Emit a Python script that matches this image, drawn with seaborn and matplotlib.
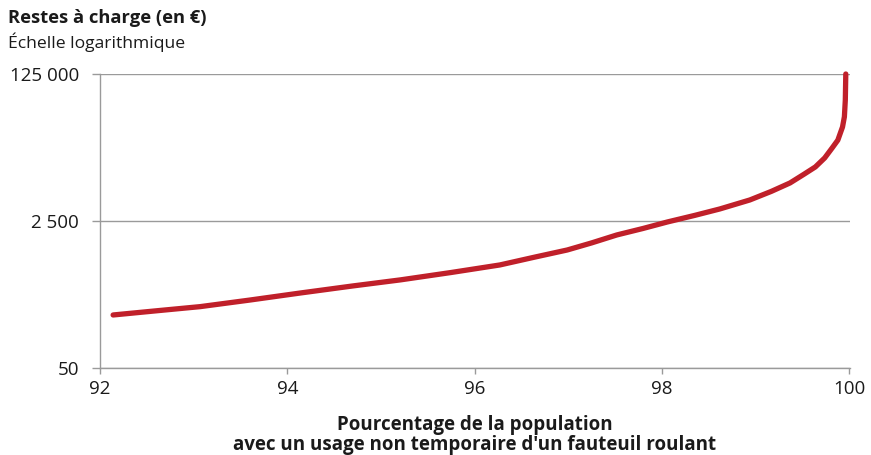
import pandas as pd
import matplotlib
matplotlib.use("Agg")
import matplotlib.pyplot as plt
import matplotlib.ticker as mticker
import seaborn as sns

# Courbe (percentile de population, reste à charge en €)
pct = [92.14, 92.6, 93.07, 93.6, 94.14, 94.7, 95.21, 95.75, 96.27, 96.65,
       96.99, 97.25, 97.52, 97.8, 98.06, 98.35, 98.62, 98.94, 99.17, 99.37,
       99.52, 99.64, 99.74, 99.82, 99.88, 99.93, 99.95, 99.96, 99.965]
rac = [205, 229, 256, 305, 368, 444, 522, 635, 776, 960,
       1156, 1395, 1725, 2050, 2437, 2900, 3445, 4375, 5500, 6886,
       8700, 10540, 13400, 17500, 21500, 30500, 40000, 62700, 125000]

x_ticks = [92, 94, 96, 98, 100]
y_ticks = [50, 2500, 125000]
y_labels = ["50", "2 500", "125 000"]

df = pd.DataFrame({"pct": pct, "rac": rac})

sns.set_style("white")
plt.rcParams["font.family"] = ["Open Sans", "DejaVu Sans"]

GRAY = "#9a9a9a"
RED = "#c0202a"
TXT = "#1a1a1a"

fig = plt.figure(figsize=(8.71, 4.55), dpi=100)
ax = fig.add_axes([100 / 871, 1 - 368 / 455, 750 / 871, 294 / 455])

sns.lineplot(data=df, x="pct", y="rac", ax=ax, color=RED, linewidth=3.8,
             solid_capstyle="round", solid_joinstyle="round",
             sort=False, estimator=None)
ax.lines[0].set_clip_on(False)

ax.set_yscale("log")
ax.set_ylim(50, 125000)
ax.set_xlim(92, 100.01)
ax.yaxis.set_major_locator(mticker.FixedLocator(y_ticks))
ax.yaxis.set_major_formatter(mticker.FixedFormatter(y_labels))
ax.yaxis.set_minor_locator(mticker.NullLocator())
ax.set_xticks(x_ticks)
ax.set_xticklabels([str(t) for t in x_ticks])

ax.grid(axis="y", color=GRAY, linewidth=1.0)
ax.grid(axis="x", visible=False)
ax.set_axisbelow(True)
for side in ["top", "right"]:
    ax.spines[side].set_visible(False)
for side in ["left", "bottom"]:
    ax.spines[side].set_color(GRAY)
    ax.spines[side].set_linewidth(1.0)

ax.tick_params(axis="y", length=6, width=1, color=GRAY, pad=9,
               labelsize=13.5, labelcolor=TXT, left=True)
ax.tick_params(axis="x", length=4, width=1, color=GRAY, pad=5,
               labelsize=13.5, labelcolor=TXT, bottom=True)

ax.set_ylabel("")
ax.set_xlabel("Pourcentage de la population\navec un usage non temporaire d'un fauteuil roulant",
              fontsize=13.5, fontweight="bold", color=TXT,
              linespacing=1.0, labelpad=12)

fig.text(8 / 871, 1 - 9 / 455, "Restes à charge (en €)", fontsize=13.2,
         fontweight="bold", color=TXT, va="top", ha="left")
fig.text(8 / 871, 1 - 33 / 455, "Échelle logarithmique", fontsize=12.6,
         color=TXT, va="top", ha="left")

fig.savefig("out.png", dpi=100)
